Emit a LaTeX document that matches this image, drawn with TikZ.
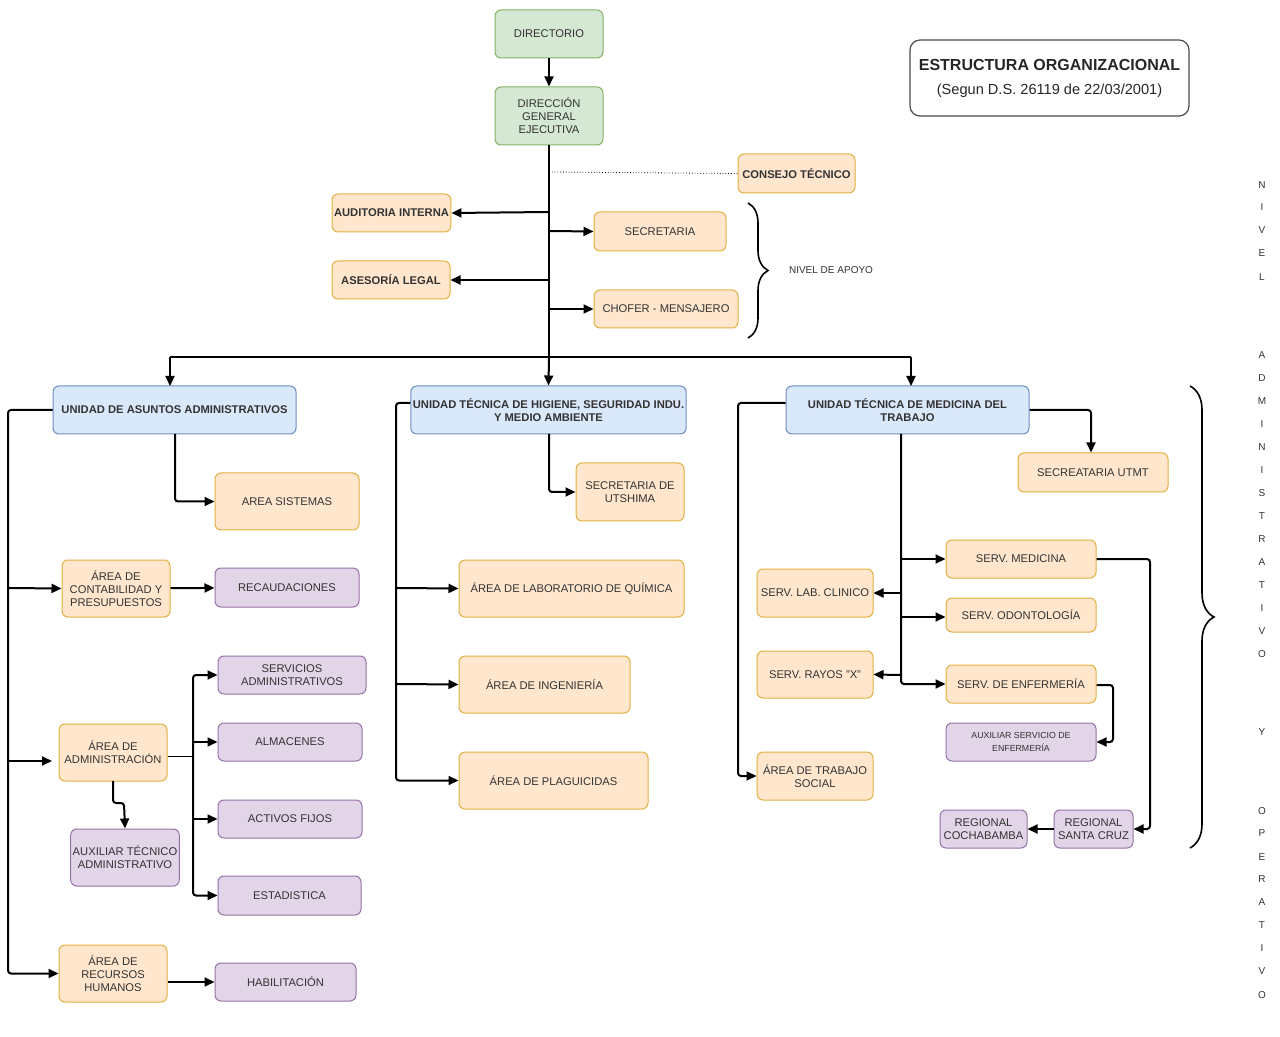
\documentclass[tikz,border=0pt]{standalone}
\usepackage{fontspec}
\setmainfont{Liberation Sans}
\usetikzlibrary{arrows.meta,decorations.pathreplacing}
\definecolor{gF}{HTML}{D5E8D4}\definecolor{gD}{HTML}{82B366}
\definecolor{oF}{HTML}{FFE6CC}\definecolor{oD}{HTML}{E0B040}
\definecolor{bF}{HTML}{DAE8FC}\definecolor{bD}{HTML}{6C8EBF}
\definecolor{pF}{HTML}{E1D5E7}\definecolor{pD}{HTML}{9673A6}
\definecolor{tx}{HTML}{333333}
\tikzset{
 box/.style={draw, rounded corners=3pt, inner sep=1pt, align=center, font=\fontsize{5.6}{6.6}\selectfont, text=tx, line width=0.5pt},
 G/.style={box, fill=gF, draw=gD},
 O/.style={box, fill=oF, draw=oD},
 B/.style={box, fill=bF, draw=bD, font=\bfseries\fontsize{5.6}{6.6}\selectfont},
 P/.style={box, fill=pF, draw=pD},
 arr/.style={-{Triangle[length=5pt,width=4.5pt]}, line width=1pt, rounded corners=1.5pt},
 ln/.style={line width=1pt, rounded corners=1.5pt},
 vl/.style={font=\fontsize{5}{6}\selectfont, text=tx}
}
\newcommand\bx[7]{\node[#6, minimum width={(#4-#2)*0.5pt}, minimum height={(#5-#3)*0.5pt}] (#1) at ({(#2+#4)/2},{(#3+#5)/2}) {#7};}
\begin{document}
\begin{tikzpicture}[x=0.5pt,y=-0.5pt]
\useasboundingbox (0,0) rectangle (1280,1037);
\fill[white] (0,0) rectangle (1280,1037);
% top
\bx{dir}{495}{10}{603}{58}{G}{DIRECTORIO}
\bx{dge}{495}{87}{603}{145}{G}{DIRECCIÓN\\GENERAL\\EJECUTIVA}
\node[draw=black!70, rounded corners=5pt, line width=0.6pt, minimum width=139.5pt, minimum height=38pt, align=center, text=black!85] (title) at (1049.5,78)
 {{\bfseries\fontsize{8}{9.5}\selectfont ESTRUCTURA ORGANIZACIONAL}\\{\fontsize{7.3}{9}\selectfont (Segun D.S. 26119 de 22/03/2001)}};
\bx{ct}{738}{154}{855}{193}{O}{\bfseries CONSEJO TÉCNICO}
\bx{ai}{333}{194}{450}{232}{O}{\bfseries AUDITORIA INTERNA}
\bx{sec}{594}{212}{726}{251}{O}{SECRETARIA}
\bx{al}{332}{261}{450}{299}{O}{\bfseries ASESORÍA LEGAL}
\bx{cho}{594}{290}{738}{328}{O}{CHOFER - MENSAJERO}
\draw[arr] (dir) -- (dge);
\coordinate (tb) at (549,357);
\draw[ln] (dge.south) -- (tb);
\draw[densely dotted, line width=0.4pt] (549,172) -- (ct.west);
\draw[arr] (549,212) -- (ai.east);
\draw[arr] (549,280) -- (al.east);
\draw[arr] (549,231) -- (sec.west);
\draw[arr] (549,309) -- (cho.west);
\draw[line width=0.8pt, decorate, decoration={brace, amplitude=10pt}] (748,203) -- (748,338);
\node[vl, anchor=west] at (782,270) {NIVEL DE APOYO};
% units
\bx{uaa}{53}{386}{296}{434}{B}{UNIDAD DE ASUNTOS ADMINISTRATIVOS}
\bx{uth}{413}{386}{684}{434}{B}{UNIDAD TÉCNICA DE HIGIENE, SEGURIDAD INDU.\\Y MEDIO AMBIENTE}
\bx{utm}{786}{386}{1029}{434}{B}{UNIDAD TÉCNICA DE MEDICINA DEL\\TRABAJO}
\draw[ln] (170,357) -- (911,357);
\draw[arr] (170,357) -- (170,386);
\draw[arr] (tb) -- (uth.north);
\draw[arr] (911,357) -- (911,386);
% left
\bx{sis}{215}{473}{359}{530}{O}{AREA SISTEMAS}
\bx{con}{62}{560}{170}{617}{O}{ÁREA DE\\CONTABILIDAD Y\\PRESUPUESTOS}
\bx{rec}{215}{568}{359}{607}{P}{RECAUDACIONES}
\bx{sad}{218}{656}{366}{694}{P}{SERVICIOS\\ADMINISTRATIVOS}
\bx{adm}{59}{724}{167}{781}{O}{ÁREA DE\\ADMINISTRACIÓN}
\bx{alm}{218}{723}{362}{761}{P}{ALMACENES}
\bx{act}{218}{800}{362}{838}{P}{ACTIVOS FIJOS}
\bx{aux}{71}{829}{179}{886}{P}{AUXILIAR TÉCNICO\\ADMINISTRATIVO}
\bx{est}{218}{876}{361}{915}{P}{ESTADISTICA}
\bx{rh}{59}{945}{167}{1002}{O}{ÁREA DE\\RECURSOS\\HUMANOS}
\bx{hab}{215}{963}{356}{1001}{P}{HABILITACIÓN}
\draw[arr] (uaa.west) -- (8,410) |- (rh.west);
\draw[arr] (8,588) -- (con.west);
\draw[arr] (8,761) -- (52,761);
\draw[arr] (175,434) |- (sis.west);
\draw[arr] (con) -- (rec);
\draw[arr] (rh.east|-982,982) -- (hab.west|-982,982);
\draw[line width=0.4pt] (adm.east|-0,756) -- (193,756);
\draw[arr] (193,756) |- (sad.west);
\draw[arr] (193,742) -- (alm.west);
\draw[arr] (193,819) -- (act.west);
\draw[arr] (193,756) |- (est.west);
\draw[arr] (113,781) -- (113,803) -- (124,803) -- (aux.north);
% middle
\bx{sut}{576}{463}{684}{521}{O}{SECRETARIA DE\\UTSHIMA}
\bx{lab}{459}{560}{684}{617}{O}{ÁREA DE LABORATORIO DE QUÍMICA}
\bx{ing}{459}{656}{630}{713}{O}{ÁREA DE INGENIERÍA}
\bx{pla}{459}{752}{648}{809}{O}{ÁREA DE PLAGUICIDAS}
\draw[arr] (uth.west|-0,403) -- (396,403) |- (pla.west);
\draw[arr] (396,588) -- (lab.west);
\draw[arr] (396,684) -- (ing.west);
\draw[arr] (549,434) |- (sut.west);
% right
\bx{sutm}{1018}{453}{1168}{492}{O}{SECREATARIA UTMT}
\bx{med}{946}{540}{1096}{578}{O}{SERV. MEDICINA}
\bx{lc}{757}{569}{873}{617}{O}{SERV. LAB. CLINICO}
\bx{odo}{946}{598}{1096}{632}{O}{SERV. ODONTOLOGÍA}
\bx{ray}{757}{651}{873}{698}{O}{SERV. RAYOS "X"}
\bx{enf}{946}{665}{1096}{703}{O}{SERV. DE ENFERMERÍA}
\bx{aen}{946}{723}{1096}{761}{P}{\fontsize{4.4}{6.2}\selectfont AUXILIAR SERVICIO DE\\\fontsize{4.4}{6.2}\selectfont ENFERMERÍA}
\bx{ts}{757}{752}{873}{800}{O}{ÁREA DE TRABAJO\\SOCIAL}
\bx{rco}{940}{810}{1027}{848}{P}{REGIONAL\\COCHABAMBA}
\bx{rsc}{1054}{810}{1133}{848}{P}{REGIONAL\\SANTA CRUZ}
\draw[arr] (utm.east|-0,410) -- (1091,410) -- (sutm.north-|1091,0);
\draw[arr] (utm.west|-0,403) -- (738,403) |- (ts.west);
\draw[arr] (901,434) |- (enf.west);
\draw[arr] (901,559) -- (med.west|-0,559);
\draw[arr] (901,593) -- (lc.east);
\draw[arr] (901,617) -- (odo.west|-0,617);
\draw[arr] (901,675) -- (ray.east);
\draw[arr] (med.east|-0,559) -- (1150,559) |- (rsc.east);
\draw[arr] (enf.east|-0,685) -- (1113,685) |- (aen.east);
\draw[arr] (rsc) -- (rco);
\draw[line width=0.8pt, decorate, decoration={brace, amplitude=12pt}] (1190,386) -- (1190,848);
% vertical letters
\foreach \c/\y in {N/185,I/207,V/230,E/253,L/277,A/355,D/378,M/401,I/424,N/447,I/470,S/493,T/516,R/539,A/562,T/585,I/608,V/631,O/654,Y/732,O/811,P/833,E/857,R/879,A/902,T/925,I/948,V/971,O/995}
 \node[vl] at (1262,\y) {\c};
\end{tikzpicture}
\end{document}
